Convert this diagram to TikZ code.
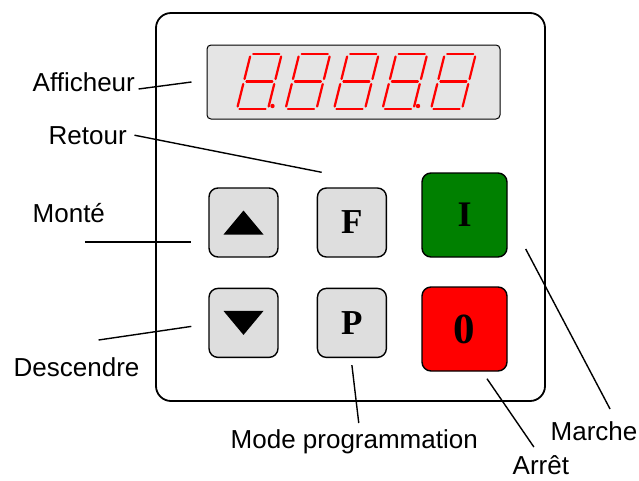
\documentclass[tikz,border=0pt]{standalone}
\usepackage{fontspec}
\setmainfont{Liberation Sans}
\newfontfamily\keyfont{Liberation Serif}
\usetikzlibrary{positioning}

\begin{document}
\begin{tikzpicture}[x=1pt,y=-1pt,line width=1.4pt,
                    font=\fontsize{26}{30}\selectfont]
	  \tikzstyle{key}=[draw,rounded corners=9pt,fill=black!13,
	    minimum width=69pt,minimum height=69pt,inner sep=0pt,
	    font=\keyfont\bfseries\fontsize{35}{35}\selectfont]
	  \tikzstyle{bigkey}=[key,minimum width=85pt,minimum height=84pt]
	  \tikzstyle{lbl}=[inner sep=0pt,anchor=base west]
	  \tikzstyle{seg}=[red,line width=2.2pt,line cap=round]

	  \useasboundingbox (0,0) rectangle (639,480);

	  % boitier
	  \draw[line width=1.8pt,rounded corners=15pt] (156,13) rectangle (545,401);

	  % afficheur
	  \node[draw,line width=1pt,fill=black!10,rounded corners=4pt,
	        minimum width=293pt,minimum height=74pt] (disp) at (353.5,82) {};
	  \foreach \i in {0,...,4} {
	    \begin{scope}[shift={(237+48.5*\i,109)},xslant=0.25]
	      \foreach \ua/\ha/\ub/\hb in {2.5/55/28.5/55,31/52.5/31/30,31/25/31/2.5,
	          2.5/0/28.5/0,0/2.5/0/25,0/30/0/52.5,2.5/27.5/28.5/27.5}
	        \draw[seg] (\ua,-\ha) -- (\ub,-\hb);
	    \end{scope}
	  }
	  \foreach \i in {0,3}
	    \fill[red] (272.5+48.5*\i,106) circle (2.2);

	  % touches
	  \node[key]                  (up)   at (243.5,222.5) {};
	  \node[key,right=38pt of up] (f)    {F};
	  \node[key,below=30pt of up] (down) {};
	  \node[key,below=30pt of f]  (p)    {P};
	  \node[bigkey,fill=green!50!black,
	        font=\keyfont\bfseries\fontsize{36}{36}\selectfont] (on)  at (464.5,215) {I};
	  \node[bigkey,fill=red,
	        font=\keyfont\bfseries\fontsize{43}{43}\selectfont] (off) at (464.5,329) {0};

	  \fill (up)   ++(-20,12)  -- ++(40,0) -- ++(-20,-24) -- cycle;
	  \fill (down) ++(-20,-12) -- ++(40,0) -- ++(-20,24)  -- cycle;

	  % legendes
	  \node[lbl] (aff) at (32,91)   {Afficheur};
	  \node[lbl] (ret) at (48,144)  {Retour};
	  \node[lbl] (mon) at (32,222)  {Monté};
	  \node[lbl] (des) at (13,376)  {Descendre};
	  \node[lbl] (mod) at (230,448) {Mode programmation};
	  \node[lbl] (mar) at (550,440) {Marche};
	  \node[lbl] (arr) at (512,474) {Arrêt};

	  \draw ([shift={(3,-2)}]aff.base east) -- ([xshift=-15pt]disp.west);
	  \draw ([xshift=7pt]ret.east)          -- ([shift={(5,-15)}]f.north west);
	  \draw ([shift={(16,20)}]mon.base)     -- ([shift={(-17,19.5)}]up.west);
	  \draw ([shift={(22,-36)}]des.base)    -- ([shift={(-17,3.5)}]down.west);
	  \draw ([shift={(4.5,-25)}]mod.base)   -- ([yshift=-7pt]p.south);
	  \draw ([shift={(16,-31)}]mar.base)    -- ([shift={(18,34)}]on.east);
	  \draw ([shift={(-7,-27)}]arr.base)    -- ([shift={(22.5,7)}]off.south);
	\end{tikzpicture}
\end{document}
